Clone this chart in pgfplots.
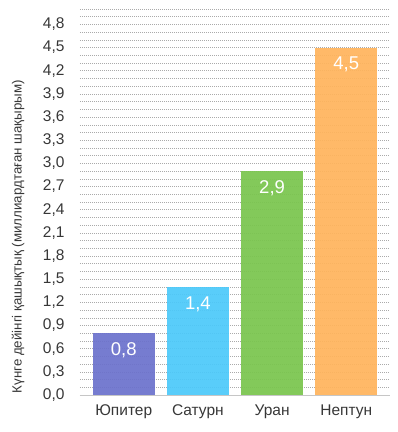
\documentclass[border=0pt]{standalone}
\usepackage{fontspec}
\setmainfont{Liberation Sans}
\usepackage{pgfplots}
\pgfplotsset{compat=1.18}
\definecolor{cjup}{RGB}{108,114,204}
\definecolor{csat}{RGB}{76,201,250}
\definecolor{cura}{RGB}{122,197,78}
\definecolor{cnep}{RGB}{255,180,92}
\definecolor{txt}{RGB}{55,55,55}
\definecolor{gridc}{RGB}{170,170,170}
\begin{document}
\begin{tikzpicture}[x=1pt,y=1pt]
\useasboundingbox (-80,-37) rectangle (318,395);
\begin{axis}[
  at={(0,0)}, anchor=south west,
  scale only axis, width=310pt, height=386pt,
  xmin=-0.59, xmax=3.59, ymin=0, ymax=5.0,
  axis x line*=bottom, axis y line*=left,
  x axis line style={draw=gray!45, line width=1pt},
  y axis line style={draw=none},
  tick style={draw=none},
  major tick length=0pt,
  xtick={0,1,2,3},
  xticklabels={Юпитер,Сатурн,Уран,Нептун},
  ytick={0,0.3,...,4.81},
  minor ytick={0.1,0.2,0.4,0.5,0.7,0.8,1.0,1.1,1.3,1.4,1.6,1.7,1.9,2.0,2.2,2.3,2.5,2.6,2.8,2.9,3.1,3.2,3.4,3.5,3.7,3.8,4.0,4.1,4.3,4.4,4.6,4.7,4.9,5.0},
  ymajorgrids, yminorgrids,
  major grid style={draw=gridc, line width=0.6pt, dash pattern=on 1pt off 1pt},
  minor grid style={draw=gridc, line width=0.6pt, dash pattern=on 1pt off 1pt},
  /pgf/number format/assume math mode=true,
  yticklabel style={/pgf/number format/.cd, fixed, fixed zerofill, precision=1, use comma, /tikz/.cd, font=\fontsize{15.5}{15.5}\selectfont, text=txt, xshift=-12pt},
  xticklabel style={font=\fontsize{15.5}{15.5}\selectfont, text=txt, yshift=-6pt},
  ylabel={Күнге дейінгі қашықтық (миллиардтаған шақырым)},
  ylabel style={at={(axis description cs:-0.2,0.41)}, anchor=center, font=\fontsize{13.3}{13.3}\selectfont, text=txt},
  ybar, bar width=62pt, bar shift=0pt,
  nodes near coords,
  every node near coord/.append style={anchor=north, yshift=-6pt, text=white, font=\fontsize{18.5}{18.5}\selectfont, /pgf/number format/.cd, fixed, fixed zerofill, precision=1, use comma},
]
\addplot[draw=none, fill=cjup, fill opacity=0.93, text opacity=1] coordinates {(0,0.8)};
\addplot[draw=none, fill=csat, fill opacity=0.93, text opacity=1] coordinates {(1,1.4)};
\addplot[draw=none, fill=cura, fill opacity=0.93, text opacity=1] coordinates {(2,2.9)};
\addplot[draw=none, fill=cnep, fill opacity=0.93, text opacity=1] coordinates {(3,4.5)};
\end{axis}
\end{tikzpicture}
\end{document}
